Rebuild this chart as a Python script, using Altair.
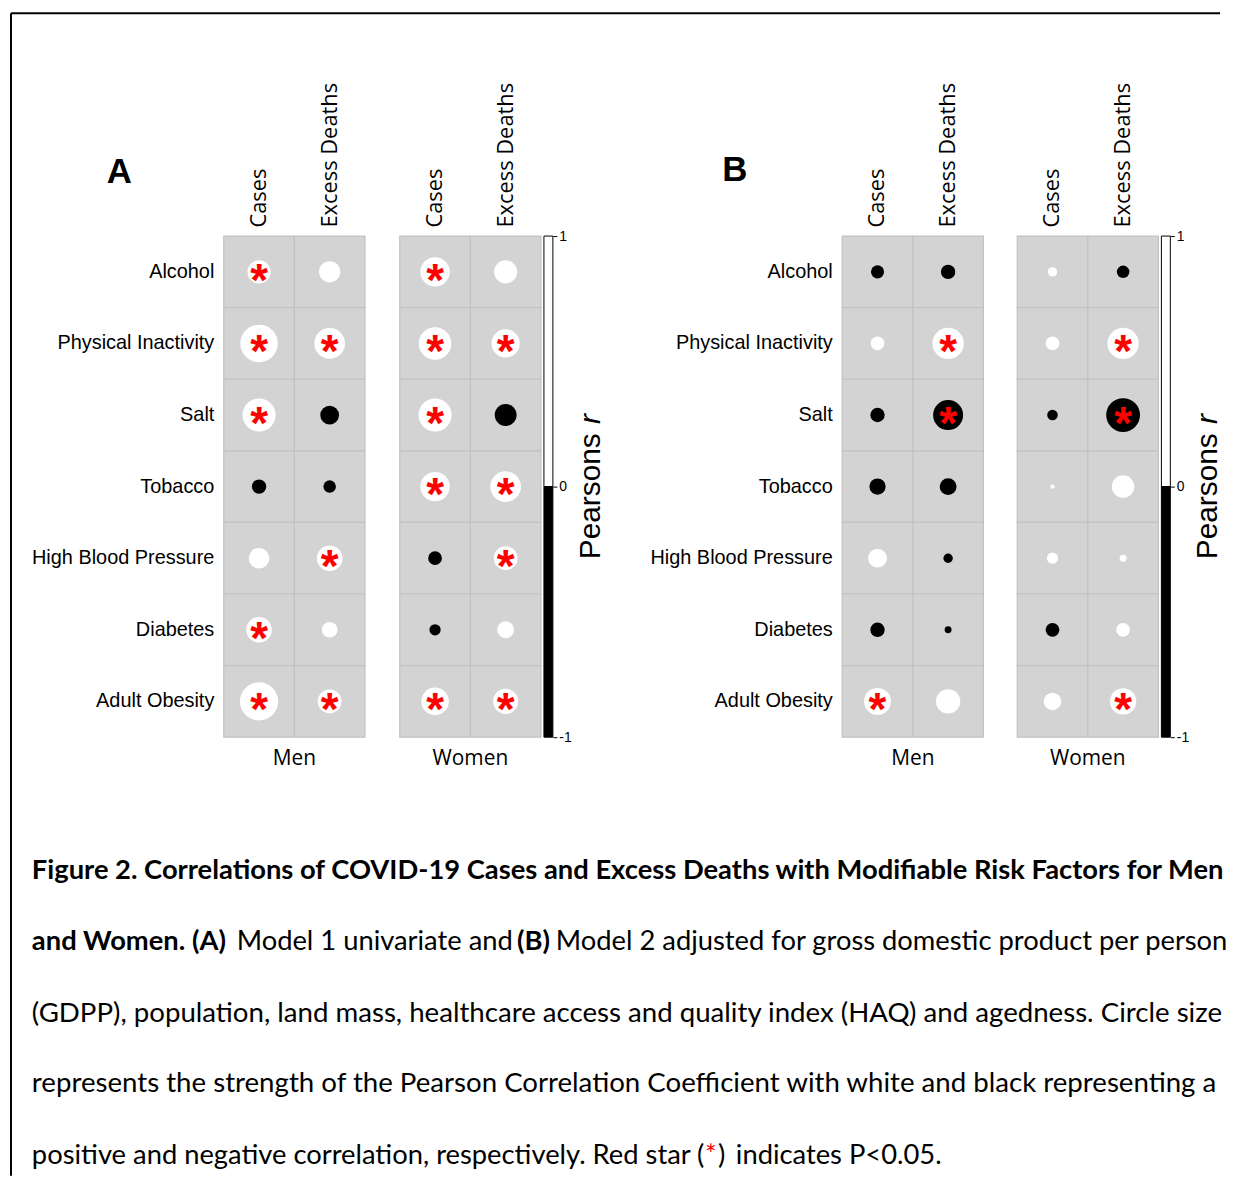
import math
import altair as alt
import pandas as pd

# ---------------- data ----------------
factors = ["Alcohol", "Physical Inactivity", "Salt", "Tobacco",
           "High Blood Pressure", "Diabetes", "Adult Obesity"]
outcomes = ["Cases", "Excess Deaths"]

# Panel A: Model 1 univariate (Pearson r)
a_men_cases = [0.37, 0.60, 0.53, -0.23, 0.33, 0.41, 0.61]
a_men_excess = [0.34, 0.49, -0.30, -0.20, 0.41, 0.25, 0.38]
a_women_cases = [0.47, 0.52, 0.53, 0.47, -0.22, -0.18, 0.44]
a_women_excess = [0.37, 0.45, -0.35, 0.49, 0.38, 0.27, 0.40]
# Panel B: Model 2 adjusted
b_men_cases = [-0.21, 0.22, -0.23, -0.26, 0.30, -0.23, 0.43]
b_men_excess = [-0.23, 0.50, -0.48, -0.27, -0.15, -0.11, 0.39]
b_women_cases = [0.15, 0.22, -0.17, 0.07, 0.18, -0.22, 0.28]
b_women_excess = [-0.20, 0.50, -0.54, 0.36, 0.11, 0.22, 0.42]

# significance (P<0.05)
a_men_cases_sig = [1, 1, 1, 0, 0, 1, 1]
a_men_excess_sig = [0, 1, 0, 0, 1, 0, 1]
a_women_cases_sig = [1, 1, 1, 1, 0, 0, 1]
a_women_excess_sig = [0, 1, 0, 1, 1, 0, 1]
b_men_cases_sig = [0, 0, 0, 0, 0, 0, 1]
b_men_excess_sig = [0, 1, 1, 0, 0, 0, 0]
b_women_cases_sig = [0, 0, 0, 0, 0, 0, 0]
b_women_excess_sig = [0, 1, 1, 0, 0, 0, 1]

colorbar_ticks = [1, 0, -1]

caption_line1 = "Figure 2. Correlations of COVID-19 Cases and Excess Deaths with Modifiable Risk Factors for Men"
caption_line2 = ["and Women. (A)", "Model 1 univariate and", "(B)",
                 "Model 2 adjusted for gross domestic product per person"]
caption_line3 = "(GDPP), population, land mass, healthcare access and quality index (HAQ) and agedness. Circle size"
caption_line4 = "represents the strength of the Pearson Correlation Coefficient with white and black representing a"
caption_line5 = ["positive and negative correlation, respectively. Red star", "(", "*", ")",
                 "indicates P<0.05."]


def make_df(cases, excess, sig_c, sig_e):
    rows = []
    for i, f in enumerate(factors):
        rows.append({"factor": f, "outcome": "Cases", "r": cases[i], "sig": sig_c[i]})
        rows.append({"factor": f, "outcome": "Excess Deaths", "r": excess[i], "sig": sig_e[i]})
    return pd.DataFrame(rows)


GRID_W, GRID_H = 142, 504
CELL = 71
one = pd.DataFrame({"k": [0]})

sign_scale = alt.Scale(domain=["pos", "neg"], range=["#ffffff", "#000000"])


def text_layer(txt, x, y, **kw):
    return alt.Chart(pd.DataFrame({"t": [txt]})).mark_text(**kw).encode(
        text="t:N", x=alt.value(x), y=alt.value(y))


def grid(df, sex, show_rows, extra=()):
    xenc = alt.X("outcome:N", sort=outcomes,
                 scale=alt.Scale(domain=outcomes, paddingInner=0, paddingOuter=0),
                 axis=alt.Axis(orient="top", title=None, labelAngle=-90, labelAlign="left",
                               labelBaseline="middle", labelFont="Open Sans", labelFontSize=22,
                               labelColor="black", ticks=False, domain=False, labelPadding=9))
    yaxis = alt.Axis(title=None, labelFont="Liberation Sans", labelFontSize=20, labelColor="black",
                     ticks=False, domain=False, labelPadding=10, labelLimit=400) if show_rows else None
    yenc = alt.Y("factor:N", sort=factors,
                 scale=alt.Scale(domain=factors, paddingInner=0, paddingOuter=0), axis=yaxis)
    base = alt.Chart(df).encode(x=xenc, y=yenc)
    cells = base.mark_rect(fill="#d3d3d3", stroke="#c2c2c2", strokeWidth=1.2)
    dots = base.mark_circle(opacity=1, strokeWidth=0).encode(
        size=alt.Size("absr:Q", legend=None,
                      scale=alt.Scale(type="pow", exponent=2, domain=[0, 1],
                                      range=[0, math.pi / 4 * CELL ** 2])),
        color=alt.Color("sign:N", scale=sign_scale, legend=None),
    ).transform_calculate(absr="abs(datum.r)", sign="datum.r > 0 ? 'pos' : 'neg'")
    stars = base.transform_filter("datum.sig == 1").mark_text(
        text="*", color="#ff0000", font="Liberation Sans", fontWeight="bold",
        fontSize=46, baseline="middle", dy=10)
    return alt.layer(cells, dots, stars, *extra).properties(
        width=GRID_W, height=GRID_H,
        title=alt.TitleParams(sex, orient="bottom", anchor="middle", frame="group",
                              font="Open Sans", fontSize=21, fontWeight="normal",
                              color="black", offset=10))


def colorbar():
    cdf = pd.DataFrame({"lo": [0, -1], "hi": [1, 0], "sign": ["pos", "neg"]})
    bar = alt.Chart(cdf).mark_rect(stroke="black", strokeWidth=1).encode(
        y=alt.Y("lo:Q", scale=alt.Scale(domain=[-1, 1], nice=False, zero=False),
                axis=alt.Axis(orient="right", values=colorbar_ticks, title=None, grid=False,
                              domain=False, tickSize=4, tickColor="black",
                              labelFont="Liberation Sans", labelFontSize=14, labelColor="black",
                              labelPadding=2,
                              labelExpr="datum.value < 0 ? '-' + abs(datum.value) : '' + datum.value")),
        y2="hi:Q",
        color=alt.Color("sign:N", scale=sign_scale, legend=None),
    )
    t1 = text_layer("Pearsons", 47, 325, angle=270, align="left", baseline="middle",
                    font="Liberation Sans", fontSize=30, color="black")
    t2 = text_layer("r", 47, 189, angle=270, align="left", baseline="middle",
                    font="Liberation Sans", fontSize=30, fontStyle="italic", color="black")
    return alt.layer(bar, t1, t2).properties(width=9, height=GRID_H)


def spacer(w, extra=()):
    dummy = alt.Chart(one).mark_point(opacity=0).encode(x=alt.value(0), y=alt.value(0))
    return alt.layer(dummy, *extra).properties(width=w, height=GRID_H)


# frame + caption attached to the first spacer (plot origin at page x=370, y=237)
OX, OY = 370, 237
frame_top = alt.Chart(one).mark_rule(color="black", strokeWidth=2).encode(
    x=alt.value(11 - OX), x2=alt.value(1227 - OX), y=alt.value(13 - OY))
frame_left = alt.Chart(one).mark_rule(color="black", strokeWidth=2).encode(
    x=alt.value(11 - OX), y=alt.value(13 - OY), y2=alt.value(1182 - OY))

cap_font = dict(font="Lato", fontSize=27.5, color="black", align="left", baseline="alphabetic")
cap_wide = dict(cap_font, fontSize=27.8)
bold = dict(cap_font, fontWeight="bold")
red = dict(cap_font, color="#ff0000")
L = [884, 955, 1027, 1098, 1170]
captions = [
    text_layer(caption_line1, 32 - OX, L[0] - OY, **bold),
    text_layer(caption_line2[0], 32 - OX, L[1] - OY, **bold),
    text_layer(caption_line2[1], 238 - OX, L[1] - OY, **cap_font),
    text_layer(caption_line2[2], 520 - OX, L[1] - OY, **bold),
    text_layer(caption_line2[3], 559 - OX, L[1] - OY, **cap_font),
    text_layer(caption_line3, 32 - OX, L[2] - OY, **cap_wide),
    text_layer(caption_line4, 32 - OX, L[3] - OY, **cap_wide),
    text_layer(caption_line5[0], 32 - OX, L[4] - OY, **cap_font),
    text_layer(caption_line5[1], 701 - OX, L[4] - OY, **cap_font),
    text_layer(caption_line5[2], 709 - OX, L[4] - OY, **red),
    text_layer(caption_line5[3], 722 - OX, L[4] - OY, **cap_font),
    text_layer(caption_line5[4], 740 - OX, L[4] - OY, **cap_font),
]

letter = dict(font="Liberation Sans", fontWeight="bold", fontSize=35, color="black",
              align="center", baseline="middle")
label_a = text_layer("A", -105, -64, **letter)
label_b = text_layer("B", -108, -66, **letter)

men_a = grid(make_df(a_men_cases, a_men_excess, a_men_cases_sig, a_men_excess_sig), "Men", True,
             extra=[label_a])
women_a = grid(make_df(a_women_cases, a_women_excess, a_women_cases_sig, a_women_excess_sig),
               "Women", False)
men_b = grid(make_df(b_men_cases, b_men_excess, b_men_cases_sig, b_men_excess_sig), "Men", True,
             extra=[label_b])
women_b = grid(make_df(b_women_cases, b_women_excess, b_women_cases_sig, b_women_excess_sig),
               "Women", False)

chart = alt.hconcat(
    men_a, spacer(29, [frame_top, frame_left] + captions), women_a, colorbar(),
    spacer(285), men_b, spacer(28), women_b, colorbar(),
    spacing=3, bounds="flush",
).properties(
    padding={"left": 2, "top": 1, "right": 0, "bottom": 0},
    background="white",
).configure_view(strokeWidth=0, strokeOpacity=0)

chart.save("out.html", embed_options={"renderer": "svg", "actions": False})
